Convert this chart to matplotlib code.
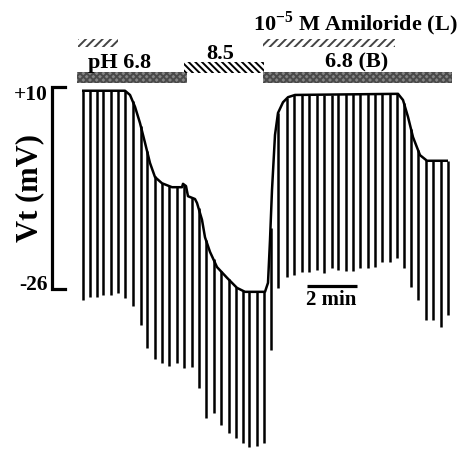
import numpy as np
import matplotlib
matplotlib.use("Agg")
import matplotlib.pyplot as plt
from matplotlib.patches import Rectangle

plt.rcParams['font.family'] = ['Liberation Serif', 'DejaVu Serif']
plt.rcParams['font.weight'] = 'bold'
plt.rcParams['mathtext.fontset'] = 'custom'
plt.rcParams['mathtext.rm'] = 'Liberation Serif:bold'
plt.rcParams['mathtext.bf'] = 'Liberation Serif:bold'

# holding voltage trace (min, mV)
base_t = [0.0, 1.72, 1.92, 2.12, 2.32, 2.52, 2.72, 2.92, 3.2, 3.6, 4.0, 4.04,
          4.16, 4.24, 4.52, 4.6, 4.8, 4.92, 5.12, 5.4, 5.8, 6.2, 6.52, 7.32,
          7.44, 7.52, 7.6, 7.72, 7.84, 8.04, 8.24, 8.52, 12.64, 12.84, 13.04,
          13.24, 13.52, 13.8, 14.64]
base_v = [9.25, 9.25, 8.5, 6.4, 3.5, 0.0, -3.6, -6.1, -7.2, -7.9, -7.9, -7.3,
          -7.7, -9.5, -10.0, -10.7, -13.7, -16.8, -19.4, -22.1, -24.0, -25.8,
          -26.5, -26.5, -24.9, -17.3, -8.4, 1.4, 5.3, 7.2, 8.1, 8.5, 8.7, 7.6,
          4.6, 1.0, -2.2, -3.2, -3.2]

# current pulse deflections: time and tip voltage
pulse_t = [0.03, 0.32, 0.59, 0.84, 1.15, 1.44, 1.72, 2.03, 2.35, 2.60, 2.90,
           3.20, 3.48, 3.80, 4.08, 4.38, 4.66, 4.96, 5.26, 5.56, 5.86, 6.16,
           6.44, 6.68, 7.00, 7.28, 7.54, 7.84, 8.20, 8.48, 8.80, 9.08, 9.40,
           9.68, 10.00, 10.24, 10.56, 10.84, 11.12, 11.44, 11.72, 12.00, 12.32,
           12.60, 12.88, 13.16, 13.44, 13.76, 14.04, 14.36, 14.64]
pulse_tip = [-28.0, -27.4, -27.4, -27.1, -27.1, -26.7, -27.6, -29.0, -32.4,
             -36.5, -38.4, -39.2, -39.7, -39.2, -40.0, -39.9, -43.6, -48.9,
             -48.0, -50.2, -51.6, -52.5, -53.4, -54.1, -53.9, -53.4, -36.8,
             -25.8, -23.9, -23.5, -23.0, -23.0, -22.6, -23.2, -22.3, -22.6,
             -22.8, -22.8, -22.3, -22.3, -22.1, -21.2, -21.2, -20.5, -22.3,
             -25.6, -28.0, -31.5, -31.5, -32.8, -30.6]

# solution periods (min)
ph_bars = [(-0.2, 4.2, 'gray'), (4.08, 7.28, 'hatch'), (7.24, 14.8, 'gray')]
ph_labels = ['pH 6.8', '8.5', '6.8 (B)']
ph_label_t = [1.52, 5.52, 11.0]
amil_bars = [(-0.16, 1.44), (7.24, 12.52)]

fig = plt.figure(figsize=(4.67, 4.49), dpi=100)
ax = fig.add_axes([0, 0, 1, 1])
ax.set_xlim(-3.28, 15.4)
ax.set_ylim(-54.44, 25.38)
ax.axis('off')

# trace
v_top = np.interp(pulse_t, base_t, base_v)
ax.vlines(pulse_t, v_top, pulse_tip, color='black', lw=1.8)
ax.plot(base_t, base_v, color='black', lw=1.8, solid_capstyle='butt')

# solution bars
plt.rcParams['hatch.linewidth'] = 1.4
for (t0, t1, kind) in ph_bars:
    if kind == 'gray':
        ax.add_patch(Rectangle((t0, 10.62), t1 - t0, 1.96, facecolor='#858585',
                               edgecolor='#4a4a4a', hatch='xxxxx', lw=0))
    else:
        ax.add_patch(Rectangle((t0, 12.4), t1 - t0, 1.96, facecolor='white',
                               edgecolor='black', hatch='\\\\\\\\\\', lw=0))
for t0, t1 in amil_bars:
    ax.add_patch(Rectangle((t0, 17.02), t1 - t0, 1.42, facecolor='white',
                           edgecolor='#444444', hatch='////', lw=0))

for lab, t in zip(ph_labels, ph_label_t):
    y = 14.84 if lab == '8.5' else 13.35
    ax.text(t, y, lab, ha='center', va='baseline', fontsize=16)
ax.text(10.92, 20.05, r'10$^{-5}$ M Amiloride (L)', ha='center',
        va='baseline', fontsize=16)

# voltage scale bar
ax.plot([-0.68, -1.22, -1.22, -0.68], [10, 10, -26, -26], color='black',
        lw=2.3, solid_joinstyle='miter')
ax.text(-1.38, 10.3, '+10', ha='right', va='top', fontsize=15.5)
ax.text(-1.38, -26.1, '-26', ha='right', va='baseline', fontsize=15.5)
ax.text(-2.08, -8.0, 'Vt (mV)', ha='center', va='center', rotation=90,
        fontsize=22)

# time scale bar
ax.plot([9.0, 11.0], [-25.4, -25.4], color='black', lw=2.3,
        solid_capstyle='butt')
ax.text(9.96, -28.0, '2 min', ha='center', va='center', fontsize=15)

fig.savefig('out.png', dpi=100)
